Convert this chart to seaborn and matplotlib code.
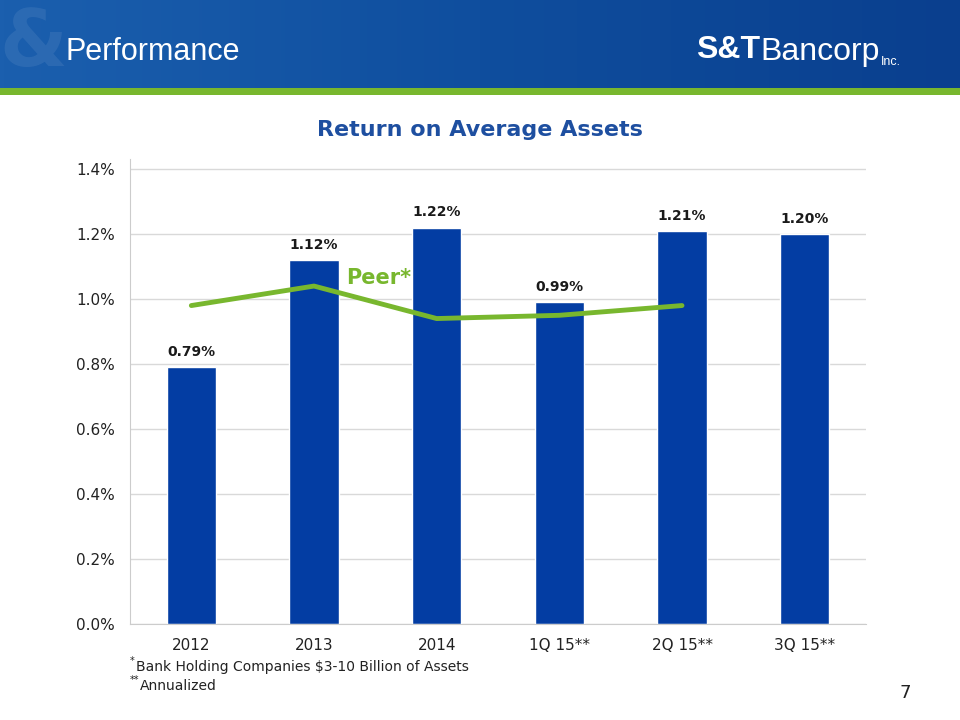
import numpy as np
import pandas as pd
import matplotlib
matplotlib.use('Agg')
import matplotlib.pyplot as plt
import seaborn as sns
from matplotlib.colors import LinearSegmentedColormap

# data
periods = ['2012', '2013', '2014', '1Q 15**', '2Q 15**', '3Q 15**']
roaa = [0.79, 1.12, 1.22, 0.99, 1.21, 1.20]
peer_periods = ['2012', '2013', '2014', '1Q 15**', '2Q 15**']
peer_roaa = [0.98, 1.04, 0.94, 0.95, 0.98]
yticks = [0.0, 0.2, 0.4, 0.6, 0.8, 1.0, 1.2, 1.4]

bar_color = '#033DA3'
peer_color = '#78B72E'
title_color = '#1E4FA0'

sns.set_style('white')
plt.rcParams['font.family'] = ['DejaVu Sans']

fig = plt.figure(figsize=(9.6, 7.2), dpi=100)

# header band
hdr = fig.add_axes([0, 1 - 88 / 720, 1, 88 / 720])
cmap = LinearSegmentedColormap.from_list('hdr', ['#1B5FAE', '#0F4E9E', '#0A3F8E'])
grad = np.linspace(0, 1, 256).reshape(1, -1)
hdr.imshow(grad, aspect='auto', cmap=cmap, extent=[0, 1, 0, 1])
hdr.text(0.035, 0.5, '&', color='white', alpha=0.08, fontsize=56,
         fontweight='bold', ha='center', va='center')
hdr.text(0.068, 0.41, 'Performance', color='white', fontsize=22,
         ha='left', va='center', family=['Liberation Sans', 'DejaVu Sans'])
hdr.text(0.725, 0.43, 'S&T', color='white', fontsize=23, fontweight='bold',
         ha='left', va='center', family=['Liberation Sans', 'DejaVu Sans'])
hdr.text(0.792, 0.41, 'Bancorp', color='white', fontsize=23,
         ha='left', va='center', family=['Liberation Sans', 'DejaVu Sans'])
hdr.text(0.918, 0.30, 'Inc.', color='white', fontsize=9,
         ha='left', va='center', family=['Liberation Sans', 'DejaVu Sans'])
hdr.set_xlim(0, 1)
hdr.set_ylim(0, 1)
hdr.axis('off')

# green rule under header
rule = fig.add_axes([0, 1 - 95 / 720, 1, 7 / 720])
rule.set_facecolor(peer_color)
rule.set_xticks([])
rule.set_yticks([])
for s in rule.spines.values():
    s.set_visible(False)

# chart
ax = fig.add_axes([130 / 960, 96 / 720, 736 / 960, 465 / 720])
df = pd.DataFrame({'period': periods, 'roaa': roaa})
df_peer = pd.DataFrame({'period': peer_periods, 'roaa': peer_roaa})

sns.barplot(data=df, x='period', y='roaa', color=bar_color, width=0.40,
            saturation=1, ax=ax, zorder=2)
sns.lineplot(data=df_peer, x='period', y='roaa', color=peer_color,
             linewidth=3.5, ax=ax, zorder=3, sort=False)

for i, v in enumerate(roaa):
    ax.text(i, v + 0.025, f'{v:.2f}%', ha='center', va='bottom',
            fontsize=10, fontweight='bold', color='#1a1a1a')

ax.text(1.26, 1.065, 'Peer*', color=peer_color, fontsize=15,
        fontweight='bold', ha='left', va='center')

ax.set_ylim(0, 1.431)
ax.set_xlim(-0.5, len(periods) - 0.5)
ax.set_yticks(yticks)
ax.set_yticklabels([f'{t:.1f}%' for t in yticks], fontsize=11, color='#222222')
ax.set_xticks(range(len(periods)))
ax.set_xticklabels(periods, fontsize=11, color='#222222')
ax.set_xticks(np.arange(-0.5, len(periods)), minor=True)
ax.tick_params(axis='x', which='major', length=0, pad=10)
ax.tick_params(axis='x', which='minor', length=5, color='#cccccc')
ax.tick_params(axis='y', length=5, color='#cccccc', pad=6)
ax.set_xlabel('')
ax.set_ylabel('')
ax.yaxis.grid(True, color='#d9d9d9', linewidth=1)
ax.set_axisbelow(True)
for s in ['top', 'right']:
    ax.spines[s].set_visible(False)
ax.spines['left'].set_color('#cccccc')
ax.spines['bottom'].set_color('#cccccc')

fig.text(480 / 960, 1 - 130 / 720, 'Return on Average Assets', color=title_color,
         fontsize=16, fontweight='bold', ha='center', va='center')

fig.text(130 / 960, 1 - 661 / 720, '*', fontsize=7, ha='left', va='center', color='#222222')
fig.text(136 / 960, 1 - 667 / 720, 'Bank Holding Companies $3-10 Billion of Assets',
         fontsize=10, ha='left', va='center', color='#222222')
fig.text(130 / 960, 1 - 680 / 720, '**', fontsize=7, ha='left', va='center', color='#222222')
fig.text(140 / 960, 1 - 686 / 720, 'Annualized', fontsize=10, ha='left',
         va='center', color='#222222')
fig.text(905 / 960, 1 - 693 / 720, '7', fontsize=13, ha='center', va='center',
         color='#222222')

plt.savefig('out.png', dpi=100)
